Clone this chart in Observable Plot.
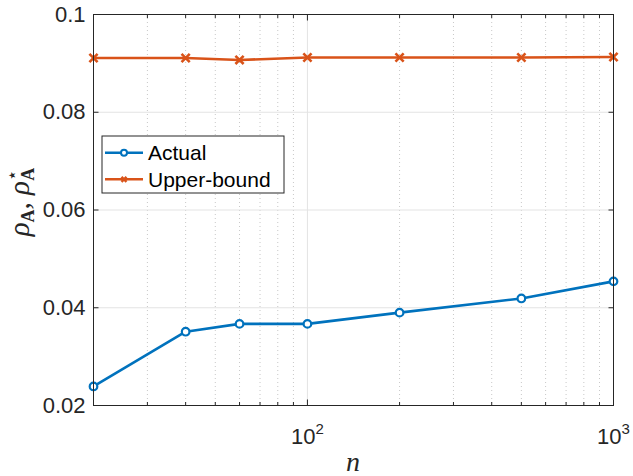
<!DOCTYPE html>
<html>
<head>
<meta charset="utf-8">
<script src="https://cdn.jsdelivr.net/npm/d3@7"></script>
<script src="https://cdn.jsdelivr.net/npm/@observablehq/plot@0.6"></script>
<style>
  html, body { margin: 0; padding: 0; background: #fff; }
  #chart { width: 633px; height: 476px; }
</style>
</head>
<body>
<div id="chart"></div>
<script>
// ---- data ----
const nValues = [20, 40, 60, 100, 200, 500, 1000];
const actualValues = [0.0239, 0.0351, 0.0367, 0.0367, 0.0390, 0.0419, 0.0454];
const upperBoundValues = [0.0911, 0.0911, 0.0907, 0.0912, 0.0912, 0.0912, 0.0913];
const seriesNames = ["Actual", "Upper-bound"];
const seriesColors = ["#0072BD", "#D95319"];
const yTicks = [0.02, 0.04, 0.06, 0.08, 0.1];
const xMajorTicks = [100, 1000];
const xMinorTicks = [30, 40, 50, 60, 70, 80, 90, 200, 300, 400, 500, 600, 700, 800, 900];
const xDomain = [20, 1000];
const yDomain = [0.02, 0.1];

const actual = nValues.map((n, i) => ({n, v: actualValues[i]}));
const upper = nValues.map((n, i) => ({n, v: upperBoundValues[i]}));

const axisColor = "#262626";
const gridColor = "#e3e3e3";
const minorGridColor = "#c8c8c8";

const chart = Plot.plot({
  width: 633,
  height: 476,
  marginLeft: 93,
  marginRight: 20,
  marginTop: 14,
  marginBottom: 71,
  style: {fontFamily: "'Liberation Sans', Arial, sans-serif", fontSize: "22px", color: axisColor, background: "#fff"},
  x: {type: "log", domain: xDomain},
  y: {domain: yDomain},
  marks: [
    Plot.gridX(xMinorTicks, {stroke: minorGridColor, strokeOpacity: 1, strokeDasharray: "1,3", strokeWidth: 1}),
    Plot.gridX(xMajorTicks, {stroke: gridColor, strokeOpacity: 1}),
    Plot.gridY(yTicks, {stroke: gridColor, strokeOpacity: 1}),
    // tick labels
    Plot.axisY(yTicks, {anchor: "left", tickSize: 0, tickPadding: 8, tickFormat: d => String(d), label: null}),
    Plot.axisX(xMajorTicks, {anchor: "bottom", tickSize: 0, tickPadding: 23, tickFormat: d => `10^${Math.round(Math.log10(d))}`, label: null}),
    // inward ticks
    Plot.axisY(yTicks, {anchor: "left", tickSize: -5.5, tickFormat: () => "", label: null, stroke: axisColor}),
    Plot.axisY(yTicks, {anchor: "right", tickSize: -5.5, tickFormat: () => "", label: null, stroke: axisColor}),
    Plot.axisX(xMajorTicks, {anchor: "bottom", tickSize: -5.5, tickFormat: () => "", label: null, stroke: axisColor}),
    Plot.axisX(xMajorTicks, {anchor: "top", tickSize: -5.5, tickFormat: () => "", label: null, stroke: axisColor}),
    Plot.axisX(xMinorTicks, {anchor: "bottom", tickSize: -3, tickFormat: () => "", label: null, stroke: axisColor}),
    Plot.axisX(xMinorTicks, {anchor: "top", tickSize: -3, tickFormat: () => "", label: null, stroke: axisColor}),
    // series
    Plot.line(actual, {x: "n", y: "v", stroke: seriesColors[0], strokeWidth: 2.6}),
    Plot.dot(actual, {x: "n", y: "v", r: 3.8, stroke: seriesColors[0], fill: "#fff", strokeWidth: 2.2}),
    Plot.line(upper, {x: "n", y: "v", stroke: seriesColors[1], strokeWidth: 2.6}),
    Plot.dot(upper, {x: "n", y: "v", r: 3.8, symbol: "times", stroke: seriesColors[1], strokeWidth: 2.6}),
    Plot.frame({stroke: axisColor, strokeWidth: 1})
  ]
});

document.getElementById("chart").appendChild(chart);
const svg = d3.select(chart);

// superscript exponents on x tick labels
svg.selectAll('g[aria-label="x-axis tick label"] text').each(function() {
  const t = d3.select(this);
  const s = t.text();
  if (s.includes("^")) {
    const [b, e] = s.split("^");
    t.text(b);
    t.append("tspan").attr("dy", "-10").attr("font-size", "15px").text(e);
  }
});

// axis titles
const serif = "'Liberation Serif', 'DejaVu Serif', serif";
svg.append("text")
  .attr("x", 353).attr("y", 471)
  .attr("text-anchor", "middle")
  .attr("font-family", serif).attr("font-style", "italic").attr("font-size", "28px")
  .attr("fill", axisColor)
  .text("n");

const yl = svg.append("text")
  .attr("transform", "translate(29,202) rotate(-90)")
  .attr("text-anchor", "middle")
  .attr("font-family", serif).attr("font-size", "29px")
  .attr("fill", axisColor);
yl.append("tspan").attr("font-style", "italic").text("ρ");
yl.append("tspan").attr("font-weight", "bold").attr("font-size", "18px").attr("dy", "5").text("A");
yl.append("tspan").attr("dy", "-5").text(", ");
yl.append("tspan").attr("font-style", "italic").text("ρ");
yl.append("tspan").attr("font-size", "18px").attr("dy", "-11").attr("font-family", "'DejaVu Sans', sans-serif").text("⋆");
yl.append("tspan").attr("font-weight", "bold").attr("font-size", "18px").attr("dx", "-11").attr("dy", "16").text("A");

// legend
const lg = svg.append("g").attr("font-family", "'Liberation Sans', Arial, sans-serif").attr("font-size", "21px").attr("text-anchor", "start");
lg.append("rect").attr("x", 102).attr("y", 136).attr("width", 182).attr("height", 57)
  .attr("fill", "#fff").attr("stroke", axisColor).attr("stroke-width", 1);
const rows = lg.selectAll("g.row").data(seriesNames).join("g")
  .attr("transform", (d, i) => `translate(0,${152.7 + i * 26.6})`);
rows.append("line").attr("x1", 105).attr("x2", 143).attr("y1", 0).attr("y2", 0)
  .attr("stroke", (d, i) => seriesColors[i]).attr("stroke-width", 2.6);
rows.filter((d, i) => i === 0).append("circle").attr("cx", 124).attr("cy", 0).attr("r", 3)
  .attr("fill", "#fff").attr("stroke", seriesColors[0]).attr("stroke-width", 2);
rows.filter((d, i) => i === 1).append("path").attr("d", "M121.5,-2.5L126.5,2.5M121.5,2.5L126.5,-2.5")
  .attr("stroke", seriesColors[1]).attr("stroke-width", 2.4);
rows.append("text").attr("x", 148).attr("y", 0).attr("dy", "0.36em").attr("text-anchor", "start").attr("fill", "#000").text(d => d);
</script>
</body>
</html>
